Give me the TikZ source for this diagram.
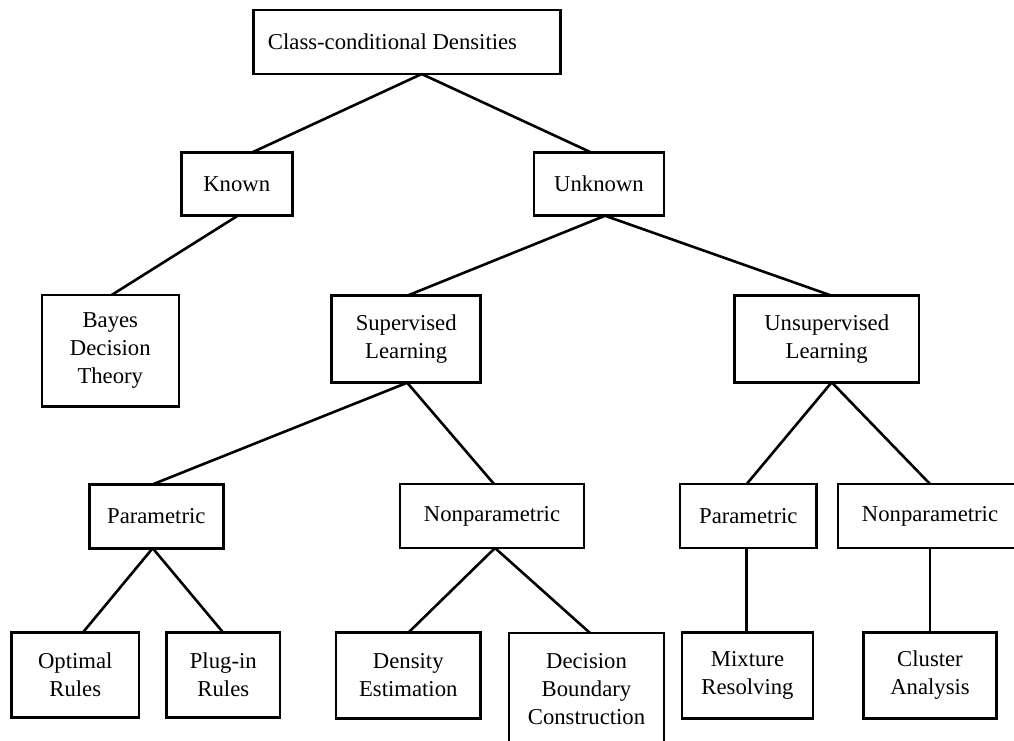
\documentclass[tikz,border=0pt]{standalone}
\usepackage{fontspec}
\setmainfont{Liberation Serif}
\begin{document}
\begin{tikzpicture}[x=1pt, y=-1pt,
  box/.style={draw, line width=2.6pt, inner sep=0pt, outer sep=0pt,
    align=center, font=\fontsize{22.7}{28}\selectfont},
  link/.style={line width=2.6pt}]
\useasboundingbox (0,0) rectangle (1014,741);
\clip (0,0) rectangle (1014,741);

% top levels
\node[box, minimum width=307pt, minimum height=64pt] (root) at (407,42) {Class-conditional Densities\hspace{29pt}};
\node[box, minimum width=111pt, minimum height=63.5pt] (known) at (236.7,184) {Known};
\node[box, minimum width=130pt, minimum height=63.5pt] (unknown) at (599,184) {Unknown};

% second level
\node[box, minimum width=137pt, minimum height=111.7pt] (bayes) at (110.3,350.8) {Bayes\\Decision\\Theory};
\node[box, minimum width=149pt, minimum height=87pt] (sup) at (406.2,339.2) {Supervised\\Learning};
\node[box, minimum width=184.7pt, minimum height=86.6pt] (unsup) at (826.7,339) {Unsupervised\\Learning};

% third level
\node[box, minimum width=134pt, minimum height=64pt] (paramL) at (156.3,516.2) {Parametric};
\node[box, minimum width=184pt, minimum height=64pt] (nonparM) at (492,516) {Nonparametric};
\node[box, minimum width=136.7pt, minimum height=64pt] (paramR) at (748.3,516) {Parametric};
\node[box, minimum width=184pt, minimum height=64pt] (nonparR) at (930,516) {Nonparametric};

% leaves
\node[box, minimum width=127.3pt, minimum height=85pt] (optimal) at (75.3,675.2) {Optimal\\Rules};
\node[box, minimum width=113.3pt, minimum height=85pt] (plugin) at (223.3,675.2) {Plug-in\\Rules};
\node[box, minimum width=144.7pt, minimum height=85.6pt] (density) at (408.3,675.5) {Density\\Estimation};
\node[box, minimum width=155pt, minimum height=112pt] (db) at (586.5,689) {Decision\\Boundary\\Construction};
\node[box, minimum width=131.3pt, minimum height=85.6pt] (mixture) at (747.5,675.5) {Mixture\\Resolving};
\node[box, minimum width=133.4pt, minimum height=85.6pt] (cluster) at (930,675.5) {Cluster\\Analysis};

% connectors
\draw[link] ([xshift=14.7pt]root.south) -- ([xshift=15.8pt]known.north);
\draw[link] ([xshift=14.7pt]root.south) -- ([xshift=-8.3pt]unknown.north);
\draw[link] ([xshift=1pt]known.south) -- ([xshift=1.4pt]bayes.north);
\draw[link] ([xshift=6pt]unknown.south) -- ([xshift=1pt]sup.north);
\draw[link] ([xshift=6pt]unknown.south) -- ([xshift=5pt]unsup.north);
\draw[link] ([xshift=1pt]sup.south) -- ([xshift=-3.3pt]paramL.north);
\draw[link] ([xshift=1pt]sup.south) -- ([xshift=2pt]nonparM.north);
\draw[link] ([xshift=5pt]unsup.south) -- ([xshift=-1.6pt]paramR.north);
\draw[link] ([xshift=5pt]unsup.south) -- (nonparR.north);
\draw[link] ([xshift=-3.6pt]paramL.south) -- ([xshift=7.4pt]optimal.north);
\draw[link] ([xshift=-3.6pt]paramL.south) -- (plugin.north);
\draw[link] ([xshift=3pt]nonparM.south) -- (density.north);
\draw[link] ([xshift=3pt]nonparM.south) -- ([xshift=3.5pt]db.north);
\draw[link] ([xshift=-1.6pt]paramR.south) -- ([xshift=-1.6pt]paramR.south |- mixture.north);
\draw[link] (nonparR.south) -- (cluster.north);
\end{tikzpicture}
\end{document}
